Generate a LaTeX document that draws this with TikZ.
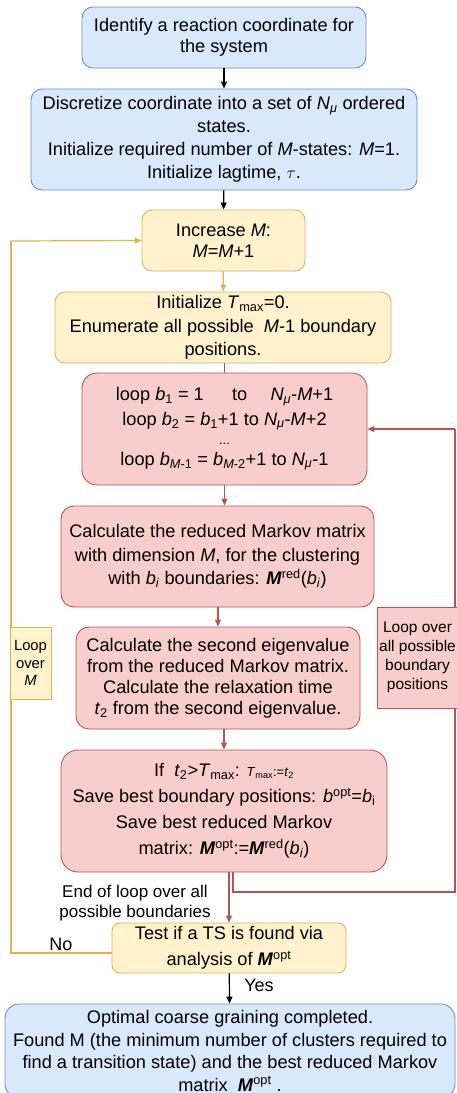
\documentclass[tikz,border=0pt]{standalone}
\usepackage{fontspec}
\setmainfont{Liberation Sans}
\usetikzlibrary{arrows.meta}
\definecolor{bfill}{HTML}{DAE8FC}\definecolor{bdraw}{HTML}{6C8EBF}
\definecolor{yfill}{HTML}{FFF2CC}\definecolor{ydraw}{HTML}{D6B656}
\definecolor{rfill}{HTML}{F8CECC}\definecolor{rdraw}{HTML}{B85450}
\newcommand{\ti}[1]{\textit{#1}}
\newcommand{\bmi}[1]{\textbf{\textit{#1}}}
\newcommand{\Nmu}{\textit{N}\textsubscript{\textit{μ}}}
\newcommand{\fs}[2]{\fontsize{#1}{#2}\selectfont}
\tikzset{
  base/.style={rectangle, align=center, inner sep=1pt, line width=0.9pt,
    font=\fs{18.2}{21.5}},
  bluebox/.style={base, draw=bdraw, fill=bfill, rounded corners=11pt},
  yellowbox/.style={base, draw=ydraw, fill=yfill, rounded corners=10pt},
  redbox/.style={base, draw=rdraw, fill=rfill, rounded corners=15pt},
  conn/.style={line width=1.2pt, -{Triangle[length=7pt,width=6pt]}},
  plain/.style={line width=1.2pt},
  lbl/.style={align=center, inner sep=0pt, font=\fs{18}{21.5}},
}
\begin{document}
\begin{tikzpicture}[x=1pt,y=-1pt]
\useasboundingbox (0,0) rectangle (456,1093);
\coordinate (lA) at (11,953);
\coordinate (lB) at (11,241);
\coordinate (rA) at (233,892);
\coordinate (rB) at (455,892);
\coordinate (rC) at (455,429);
\coordinate (r8a) at (233,872);

\node[bluebox, minimum width=284pt, minimum height=61pt, font=\fs{18.2}{21}] (n1) at (224,37.5)
 {Identify a reaction coordinate for\\the system};
\node[bluebox, minimum width=386pt, minimum height=101pt, font=\fs{18.2}{23}] (n2) at (224,139.5)
 {Discretize coordinate into a set of \Nmu{} ordered\\states.\\Initialize required number of \ti{M}-states: \ti{M}=1.\\Initialize lagtime, $\tau$.};
\node[yellowbox, minimum width=163pt, minimum height=61pt, font=\fs{18.2}{21}] (n3) at (223.5,240.5)
 {Increase \ti{M}:\\\ti{M}=\ti{M}+1};
\node[yellowbox, minimum width=336pt, minimum height=71pt, font=\fs{18.2}{23.5}] (n4) at (223,327.5)
 {Initialize \ti{T}\textsubscript{max}=0.\\Enumerate all possible \ \ti{M}-1 boundary\\positions.};
\node[redbox, minimum width=285pt, minimum height=112pt, font=\fs{18.2}{24.5}] (n5) at (224.5,429)
 {loop \ti{b}\textsubscript{1} = 1 \quad\ to \quad \Nmu-\ti{M}+1\\
  loop \ti{b}\textsubscript{2} = \ti{b}\textsubscript{1}+1 to \Nmu-\ti{M}+2\\[-5pt]
  {\fs{13}{13}...}\\[-4pt]
  loop \ti{b}\textsubscript{\ti{M}-1} = \ti{b}\textsubscript{\ti{M}-2}+1 to \Nmu-1};
\node[redbox, minimum width=313pt, minimum height=101pt, rounded corners=13pt, font=\fs{18.2}{23.5}] (n6) at (217.5,556.5)
 {Calculate the reduced Markov matrix\\with dimension \ti{M}, for the clustering\\with \ti{b}\textsubscript{\ti{i}} boundaries: \bmi{M}\textsuperscript{red}(\ti{b}\textsubscript{\ti{i}})};
\node[redbox, minimum width=284pt, minimum height=102pt, rounded corners=13pt, font=\fs{18.2}{21}] (n7) at (218,678)
 {Calculate the second eigenvalue\\from the reduced Markov matrix.\\Calculate the relaxation time\\\ti{t}\textsubscript{2} from the second eigenvalue.};
\node[redbox, minimum width=326pt, minimum height=122pt, rounded corners=17pt, font=\fs{18.2}{26}] (n8) at (224,811)
 {If \ \ti{t}\textsubscript{2}>\ti{T}\textsubscript{max}: {\fs{13}{13}\ti{T}\textsubscript{max}:=\ti{t}\textsubscript{2}}\\
  Save best boundary positions: \ti{b}\textsuperscript{opt}=\ti{b}\textsubscript{i}\\
  Save best reduced Markov\\
  matrix: \bmi{M}\textsuperscript{opt}:=\bmi{M}\textsuperscript{red}(\ti{b}\textsubscript{\ti{i}})};
\node[yellowbox, minimum width=234pt, minimum height=50pt, rounded corners=8pt, font=\fs{18.2}{26}] (n9) at (229,948)
 {Test if a TS is found via\\analysis of \bmi{M}\textsuperscript{opt}};
\node[bluebox, minimum width=450pt, minimum height=94pt, rounded corners=14pt, font=\fs{18.2}{22.5}] (n10) at (230,1051)
 {Optimal coarse graining completed.\\Found M (the minimum number of clusters required to\\find a transition state) and the best reduced Markov\\matrix \ \bmi{M}\textsuperscript{opt} .};

% connectors
\draw[conn, black] (n1) -- (n2);
\draw[conn, black] (n2) -- (n3);
\draw[conn, ydraw] (n3) -- (n4);
\draw[plain, rdraw] (n4.south -| n5.north) -- (n5.north);
\draw[conn, rdraw] (n5.south) -- (n5.south |- n6.north);
\draw[conn, rdraw] (n6.south -| n7.north) -- (n7.north);
\draw[conn, rdraw] (n7.south -| n8.north) -- (n8.north);
\draw[conn, rdraw] (n8.south -| n9.north) -- (n9.north);
\draw[plain, rdraw] (r8a) -- (rA) -- (rB) -- (rC);
\draw[conn, rdraw] (rC) -- (n5.east);
\draw[plain, ydraw] (n9.west |- lA) -- (lA) -- (lB);
\draw[conn, ydraw] (lB) -- (n3.west);
\draw[conn, black] (n9) -- (n10);

% side boxes
\node[base, draw=ydraw, fill=yfill, minimum width=41pt, minimum height=72pt, font=\fs{14.8}{17.5}] (lm) at (30.5,663)
 {Loop\\over\\\ti{M}};
\node[base, draw=rdraw, fill=rfill, minimum width=81pt, minimum height=101pt, font=\fs{15.5}{19}] (lb) at (417.5,657.5)
 {Loop over\\all possible\\boundary\\positions};

% labels
\node[lbl, font=\fs{17}{20}] (lend) at (135,903) {End of loop over all\\possible boundaries};
\node[lbl] (lno) at (61,944) {No};
\node[lbl] (lyes) at (259,985) {Yes};
\end{tikzpicture}
\end{document}
